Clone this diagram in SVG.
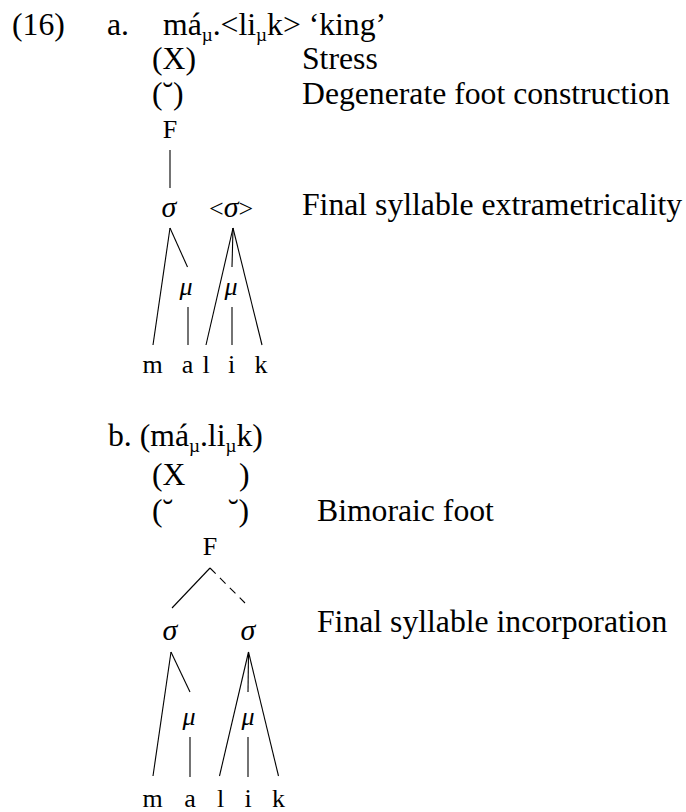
<svg xmlns="http://www.w3.org/2000/svg" width="686" height="812" viewBox="0 0 686 812">
<style>
  text { font-family: "Liberation Serif", "Times New Roman", serif; fill: #000; }
  .t { font-size: 31.7px; }
  .n { font-size: 26px; }
  .g { font-size: 30px; font-style: italic; }
  .mu { font-size: 26px; font-style: italic; }
  .sub { font-size: 19px; }
  .c { text-anchor: middle; }
  line { stroke: #000; stroke-width: 1.1; fill: none; }
  .dash { stroke-dasharray: 8 6; }
</style>
<rect width="686" height="812" fill="#fff"/>

<g id="header-a">
  <text class="t" x="12" y="35">(16)</text>
  <text class="t" x="107" y="35">a.</text>
  <text class="t" x="163" y="35">má<tspan class="sub" dy="6">µ</tspan><tspan dy="-6">.&lt;li</tspan><tspan class="sub" dy="6">µ</tspan><tspan dy="-6">k&gt; ‘king’</tspan></text>
</g>
<g id="stress-a">
  <text class="t" x="152" y="69">(X)</text>
  <text class="t" x="302" y="69">Stress</text>
</g>
<g id="foot-a">
  <text class="t" x="152" y="104">(˘)</text>
  <text class="t" x="302" y="104">Degenerate foot construction</text>
</g>
<g id="F-a"><text class="n c" x="170" y="138">F</text></g>
<g id="sigma1-a"><text class="g c" x="169" y="217">σ</text></g>
<g id="sigma2-a"><text class="n" x="209" y="217">&lt;<tspan class="g">σ</tspan>&gt;</text></g>
<g id="label-extra"><text class="t" x="302" y="215">Final syllable extrametricality</text></g>
<g id="mu1-a"><text class="mu c" x="186" y="295">μ</text></g>
<g id="mu2-a"><text class="mu c" x="231" y="295">μ</text></g>
<g id="seg-a">
  <text class="n c" x="152.5" y="373">m</text>
  <text class="n c" x="187.5" y="373">a</text>
  <text class="n c" x="206" y="373">l</text>
  <text class="n c" x="231.5" y="373">i</text>
  <text class="n c" x="261" y="373">k</text>
</g>

<g id="header-b">
  <text class="t" x="108" y="446">b. (má<tspan class="sub" dy="6">µ</tspan><tspan dy="-6">.li</tspan><tspan class="sub" dy="6">µ</tspan><tspan dy="-6">k)</tspan></text>
</g>
<g id="stress-b">
  <text class="t" x="152" y="485">(X</text>
  <text class="t" x="239" y="485">)</text>
</g>
<g id="foot-b">
  <text class="t" x="152" y="521">(˘</text>
  <text class="t" x="228" y="521">˘)</text>
  <text class="t" x="317" y="521">Bimoraic foot</text>
</g>
<g id="F-b"><text class="n c" x="210" y="555">F</text></g>
<g id="sigma1-b"><text class="g c" x="170" y="640">σ</text></g>
<g id="sigma2-b"><text class="g c" x="248" y="640">σ</text></g>
<g id="label-incorp"><text class="t" x="317" y="632">Final syllable incorporation</text></g>
<g id="mu1-b"><text class="mu c" x="189" y="725">μ</text></g>
<g id="mu2-b"><text class="mu c" x="248" y="725">μ</text></g>
<g id="seg-b">
  <text class="n c" x="152.5" y="807">m</text>
  <text class="n c" x="190" y="807">a</text>
  <text class="n c" x="220.5" y="807">l</text>
  <text class="n c" x="248" y="807">i</text>
  <text class="n c" x="278.5" y="807">k</text>
</g>

<g id="connectors">
  <line x1="170" y1="150" x2="170" y2="188"/>
  <line x1="170" y1="228" x2="153" y2="345"/>
  <line x1="170" y1="228" x2="187.5" y2="267"/>
  <line x1="233" y1="228" x2="206" y2="345"/>
  <line x1="233" y1="228" x2="232" y2="267"/>
  <line x1="233" y1="228" x2="262" y2="345"/>
  <line x1="188" y1="307" x2="188" y2="345"/>
  <line x1="232" y1="307" x2="232" y2="345"/>

  <line x1="210" y1="568" x2="172" y2="608"/>
  <line class="dash" x1="210" y1="568" x2="245" y2="603"/>
  <line x1="171" y1="652" x2="153" y2="776"/>
  <line x1="171" y1="652" x2="190" y2="692"/>
  <line x1="248.5" y1="652" x2="219.5" y2="776"/>
  <line x1="248.5" y1="652" x2="248" y2="692"/>
  <line x1="248.5" y1="652" x2="278.5" y2="776"/>
  <line x1="190" y1="737" x2="190" y2="777"/>
  <line x1="248" y1="737" x2="248" y2="777"/>
</g>
</svg>
